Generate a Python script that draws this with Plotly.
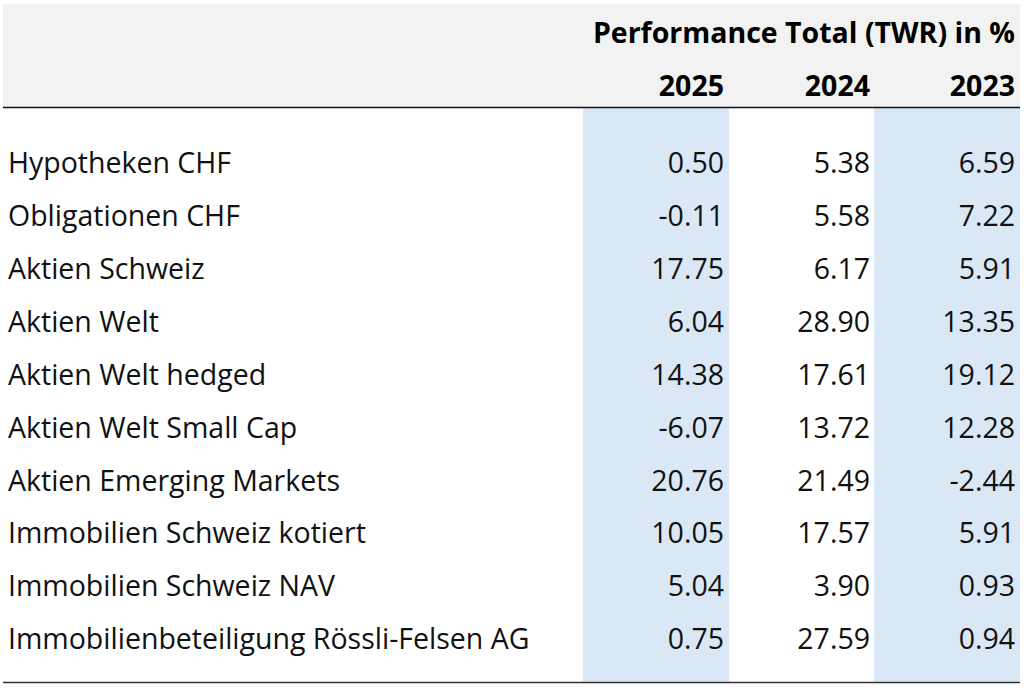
import plotly.graph_objects as go

categories = [
    "Hypotheken CHF",
    "Obligationen CHF",
    "Aktien Schweiz",
    "Aktien Welt",
    "Aktien Welt hedged",
    "Aktien Welt Small Cap",
    "Aktien Emerging Markets",
    "Immobilien Schweiz kotiert",
    "Immobilien Schweiz NAV",
    "Immobilienbeteiligung Rössli-Felsen AG",
]
years = ["2025", "2024", "2023"]
perf_2025 = [0.50, -0.11, 17.75, 6.04, 14.38, -6.07, 20.76, 10.05, 5.04, 0.75]
perf_2024 = [5.38, 5.58, 6.17, 28.90, 17.61, 13.72, 21.49, 17.57, 3.90, 27.59]
perf_2023 = [6.59, 7.22, 5.91, 13.35, 19.12, 12.28, -2.44, 5.91, 0.93, 0.94]
title = "Performance Total (TWR) in %"

W, H = 1024, 688
FONT = "Open Sans"
SIZE = 28.5
row_y0, row_h = 166, 52.9
col_right = [724, 870, 1015]
bands = [(583, 729), (874, 1020)]
row_ys = [row_y0 + i * row_h for i in range(len(categories))]

fig = go.Figure()

shapes = [
    dict(type="rect", x0=3, x1=1020, y0=4, y1=107, fillcolor="#f2f2f2", line_width=0, layer="below"),
]
for x0, x1 in bands:
    shapes.append(dict(type="rect", x0=x0, x1=x1, y0=108, y1=682, fillcolor="#dae8f6", line_width=0, layer="below"))
shapes.append(dict(type="line", x0=3, x1=1020, y0=107.5, y1=107.5, line=dict(color="#111111", width=1.5)))
shapes.append(dict(type="line", x0=3, x1=1020, y0=682.5, y1=682.5, line=dict(color="#333333", width=1.5)))

# row labels
fig.add_trace(go.Scatter(
    x=[8] * len(categories), y=row_ys, text=categories, mode="text",
    textposition="middle right", textfont=dict(family=FONT, size=SIZE, color="#111111"),
    hoverinfo="skip", showlegend=False, cliponaxis=False,
))

# values
for xr, vals in zip(col_right, [perf_2025, perf_2024, perf_2023]):
    fig.add_trace(go.Scatter(
        x=[xr] * len(vals), y=row_ys, text=[f"{v:.2f}" for v in vals], mode="text",
        textposition="middle left", textfont=dict(family=FONT, size=SIZE, color="#111111"),
        hoverinfo="skip", showlegend=False, cliponaxis=False,
    ))

# header
fig.add_trace(go.Scatter(
    x=col_right, y=[89] * 3, text=[f"<b>{y}</b>" for y in years], mode="text",
    textposition="middle left", textfont=dict(family=FONT, size=SIZE, color="#000000"),
    hoverinfo="skip", showlegend=False, cliponaxis=False,
))
fig.add_trace(go.Scatter(
    x=[col_right[-1]], y=[36], text=[f"<b>{title}</b>"], mode="text",
    textposition="middle left", textfont=dict(family=FONT, size=SIZE, color="#000000"),
    hoverinfo="skip", showlegend=False, cliponaxis=False,
))

fig.update_layout(
    width=W, height=H,
    margin=dict(l=0, r=0, t=0, b=0),
    paper_bgcolor="white", plot_bgcolor="white",
    shapes=shapes,
    xaxis=dict(range=[0, W], visible=False, fixedrange=True),
    yaxis=dict(range=[H, 0], visible=False, fixedrange=True),
)

fig.write_html("out.html", config={"displayModeBar": False},
               post_script="document.body.style.margin='0';")
